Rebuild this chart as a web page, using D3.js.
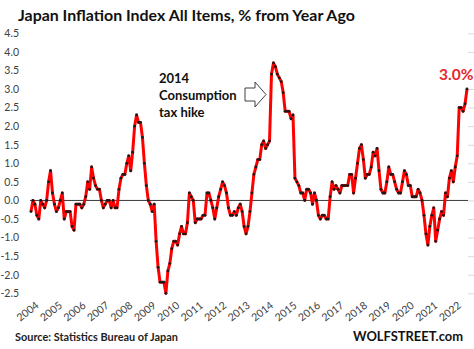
<!DOCTYPE html>
<html>
<head>
<meta charset="utf-8">
<script src="https://cdn.jsdelivr.net/npm/d3@7"></script>
<style>
    body { margin: 0; background: #fff; }
    svg { display: block; font-family: Lato, "Open Sans", sans-serif; }
</style>
</head>
<body>
<div id="plot"></div>
<script>
let svgWidth = 474;
let svgHeight = 349;

// CPI all items, % change from a year ago, Jan 2004 .. Aug 2022 (one row per year)
let yoyValues = [
    -0.3, 0.0, -0.1, -0.4, -0.5, 0.0, -0.1, -0.2, 0.0, 0.5, 0.8, 0.2,
    -0.1, -0.3, -0.2, 0.0, 0.2, -0.5, -0.3, -0.3, -0.3, -0.7, -0.8, -0.1,
    -0.1, -0.1, -0.2, -0.1, 0.1, 0.5, 0.3, 0.9, 0.6, 0.4, 0.3, 0.3,
    0.0, -0.2, -0.1, 0.0, 0.0, -0.2, 0.0, -0.2, -0.2, 0.3, 0.6, 0.7,
    0.7, 1.0, 1.2, 0.8, 1.3, 2.0, 2.3, 2.1, 2.1, 1.7, 1.0, 0.4,
    0.0, -0.1, -0.3, -0.1, -1.1, -1.8, -2.2, -2.2, -2.2, -2.5, -1.9, -1.7,
    -1.3, -1.1, -1.1, -1.2, -0.9, -0.7, -0.9, -0.9, -0.6, 0.2, 0.1, 0.0,
    -0.6, -0.5, -0.5, -0.5, -0.4, -0.4, 0.2, 0.2, 0.0, -0.2, -0.5, -0.2,
    0.1, 0.3, 0.5, 0.4, 0.2, -0.2, -0.4, -0.4, -0.3, -0.4, -0.2, -0.1,
    -0.3, -0.7, -0.9, -0.7, -0.3, 0.2, 0.7, 0.9, 1.1, 1.1, 1.5, 1.6,
    1.4, 1.5, 1.6, 3.4, 3.7, 3.6, 3.4, 3.3, 3.2, 2.9, 2.4, 2.4,
    2.4, 2.2, 2.3, 0.6, 0.5, 0.4, 0.2, 0.2, 0.0, 0.3, 0.3, 0.2,
    -0.1, 0.2, 0.0, -0.4, -0.5, -0.4, -0.4, -0.5, -0.5, 0.1, 0.5, 0.3,
    0.4, 0.3, 0.2, 0.4, 0.4, 0.4, 0.4, 0.7, 0.7, 0.2, 0.6, 1.0,
    1.4, 1.5, 1.1, 0.6, 0.7, 0.7, 0.9, 1.3, 1.2, 1.4, 0.8, 0.3,
    0.2, 0.2, 0.5, 0.9, 0.7, 0.7, 0.5, 0.3, 0.2, 0.2, 0.5, 0.8,
    0.7, 0.4, 0.4, 0.1, 0.1, 0.1, 0.3, 0.2, 0.0, -0.4, -0.9, -1.2,
    -0.7, -0.4, -0.2, -1.1, -0.8, -0.5, -0.3, -0.4, 0.2, 0.1, 0.6, 0.8,
    0.5, 0.9, 1.2, 2.5, 2.5, 2.4, 2.6, 3.0
];

let yearLabels = ['2004', '2005', '2006', '2007', '2008', '2009', '2010', '2011', '2012',
    '2013', '2014', '2015', '2016', '2017', '2018', '2019', '2020', '2021', '2022'];

let yTicks = [-2.5, -2.0, -1.5, -1.0, -0.5, 0.0, 0.5, 1.0, 1.5, 2.0, 2.5, 3.0, 3.5, 4.0, 4.5];

let noteLines = ['2014', 'Consumption', 'tax hike'];
let lastLabel = '3.0%';

// month keys like "2004-01", one per value
let monthKeys = yoyValues.map((v, i) => {
    let y = 2004 + Math.floor(i / 12);
    let m = (i % 12) + 1;
    return `${y}-${String(m).padStart(2, '0')}`;
});
let series = yoyValues.map((v, i) => ({ key: monthKeys[i], value: v }));

let plotLeft = 31, plotRight = 467, gridLeft = 30, gridRight = 468;

let xScale = d3.scalePoint()
    .domain(monthKeys)
    .range([plotLeft, plotRight]);

let yScale = d3.scaleLinear()
    .domain([-2.5, 4.5])
    .range([293.3, 33.3]);

let $svg = d3.select('#plot')
    .append('svg')
    .attr('width', svgWidth)
    .attr('height', svgHeight);

// shrink or grow font size so a text spans the given width
function fitWidth(sel, width) {
    let node = sel.node();
    let size = parseFloat(sel.attr('font-size'));
    let w = node.getComputedTextLength();
    sel.attr('font-size', (size * width / w).toFixed(2));
}

// Title
$svg.append('text')
    .attr('x', 18)
    .attr('y', 21)
    .attr('font-size', 16)
    .attr('font-weight', 'bold')
    .attr('fill', '#111')
    .text('Japan Inflation Index All Items, % from Year Ago')
    .call(fitWidth, 337);

// Gridlines + y axis labels
let leftAxis = d3.axisLeft(yScale)
    .tickValues(yTicks)
    .tickSize(-(gridRight - gridLeft))
    .tickPadding(11)
    .tickFormat(d3.format('.1f'));

let yAxisGroup = $svg.append('g')
    .attr('transform', `translate(${gridRight}, 0)`)
    .call(leftAxis);

yAxisGroup.select('.domain').remove();
yAxisGroup.selectAll('.tick line')
    .attr('stroke', '#d9d9d9')
    .attr('stroke-width', 1);
yAxisGroup.selectAll('.tick text')
    .attr('x', -(gridRight - 19))
    .attr('font-size', 10.5)
    .attr('font-family', 'Lato, sans-serif')
    .attr('fill', '#404040')
    .text(d => d3.format('.1f')(d).replace('−', '-'));

// zero line
$svg.append('line')
    .attr('x1', gridLeft)
    .attr('x2', gridRight)
    .attr('y1', yScale(0))
    .attr('y2', yScale(0))
    .attr('stroke', '#3a3a3a')
    .attr('stroke-width', 1);

// Year labels, rotated, one at each January
let yearGroup = $svg.append('g');
yearLabels.forEach(label => {
    let x = xScale(`${label}-01`);
    yearGroup.append('text')
        .attr('transform', `translate(${x + 4}, 301) rotate(-38)`)
        .attr('text-anchor', 'end')
        .attr('dy', '0.7em')
        .attr('font-size', 10.5)
        .attr('fill', '#404040')
        .text(label);
});

// Line
let line = d3.line()
    .x(d => xScale(d.key))
    .y(d => yScale(d.value));

$svg.append('path')
    .datum(series)
    .attr('d', line)
    .attr('fill', 'none')
    .attr('stroke', '#ff0000')
    .attr('stroke-width', 3)
    .attr('stroke-linejoin', 'round');

$svg.append('g')
    .selectAll('circle')
    .data(series)
    .enter()
    .append('circle')
    .attr('cx', d => xScale(d.key))
    .attr('cy', d => yScale(d.value))
    .attr('r', 1.4)
    .attr('fill', '#1a1a1a');

// Annotation text + hollow arrow
let note = $svg.append('g');
noteLines.forEach((t, i) => {
    note.append('text')
        .attr('x', 159)
        .attr('y', 83 + i * 17)
        .attr('font-size', 13)
        .attr('font-weight', 'bold')
        .attr('fill', '#111')
        .text(t);
});

let arrowPts = [[245, 88], [255, 88], [255, 82], [266, 94.5], [255, 107], [255, 101], [245, 101]];
$svg.append('path')
    .attr('d', d3.line()(arrowPts) + 'Z')
    .attr('fill', '#fff')
    .attr('stroke', '#404040')
    .attr('stroke-width', 1);

// Latest value label
$svg.append('text')
    .attr('x', 439)
    .attr('y', 80)
    .attr('font-size', 15.5)
    .attr('font-weight', 'bold')
    .attr('fill', '#e8242c')
    .text(lastLabel);

// Footer
$svg.append('text')
    .attr('x', 15)
    .attr('y', 341)
    .attr('font-size', 11)
    .attr('font-weight', 'bold')
    .attr('fill', '#222')
    .text('Source: Statistics Bureau of Japan')
    .call(fitWidth, 163);

$svg.append('text')
    .attr('x', 353)
    .attr('y', 341)
    .attr('font-size', 13)
    .attr('font-weight', 'bold')
    .attr('fill', '#111')
    .text('WOLFSTREET.com')
    .call(fitWidth, 110);
</script>
</body>
</html>
